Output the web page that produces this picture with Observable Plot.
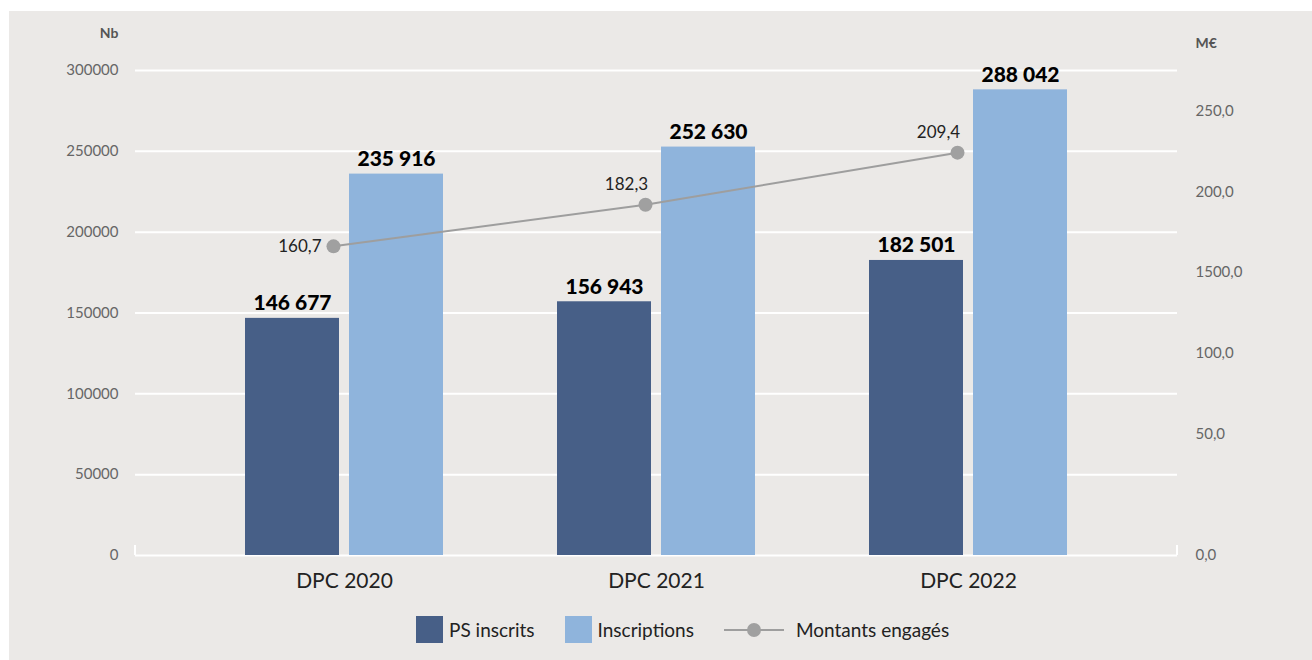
<!DOCTYPE html>
<html><head><meta charset="utf-8">
<script src="https://cdn.jsdelivr.net/npm/d3@7"></script>
<script src="https://cdn.jsdelivr.net/npm/@observablehq/plot@0.6"></script>
<style>
body{margin:0;background:#fff;font-family:Lato,"Noto Sans",sans-serif;}
#panel{position:absolute;left:9px;top:11px;width:1303px;height:649px;background:#ebe9e7;overflow:hidden;}
#chart{position:absolute;left:0;top:0;}
#legend{position:absolute;left:407px;top:605px;display:flex;align-items:center;font-size:19px;color:#222;height:27px;}
.sw{width:27px;height:27px;display:inline-block;}
.lab{margin-left:6px;margin-right:30px;}
.ln{width:60px;height:27px;display:inline-block;}
</style></head><body>
<div id="panel"><div id="chart"></div><div id="legend"></div></div>
<script>
// ---- data ----
const years = ["DPC 2020", "DPC 2021", "DPC 2022"];
const psInscrits = [146677, 156943, 182501];
const inscriptions = [235916, 252630, 288042];
const montants = [160.7, 182.3, 209.4];
const leftTicks = [0, 50000, 100000, 150000, 200000, 250000, 300000];
const rightTickValues = [0, 50, 100, 150, 200, 250];
const rightTickLabels = ["0,0", "50,0", "100,0", "1500,0", "200,0", "250,0"];
const seriesNames = ["PS inscrits", "Inscriptions", "Montants engagés"];
const leftUnit = "Nb";
const rightUnit = "M€";

// ---- build ----
const colors = {dark: "#475f87", light: "#8fb4dc", line: "#9e9e9e"};
const fr = d3.formatLocale({decimal: ",", thousands: " ", grouping: [3], currency: ["", "€"]});
const fmtInt = fr.format(",d");
const fmtDec = fr.format(".1f");
const psData = years.map((y, i) => ({year: y, value: psInscrits[i]}));
const insData = years.map((y, i) => ({year: y, value: inscriptions[i]}));
const lineData = years.map((y, i) => ({year: y, value: montants[i], i}));
const lineScale = 1190; // right-axis units -> left-axis units
const rightPos = v => v === 0 ? 0 : v * 1000 + 25000;

const endTicks = (...args) => {
  const dims = args.find(a => a && typeof a === "object" && a.marginLeft !== undefined && a.width !== undefined);
  const scales = args.find(a => a && typeof a === "object" && typeof a.y === "function");
  const ns = "http://www.w3.org/2000/svg";
  const g = document.createElementNS(ns, "g");
  if (!dims || !scales) return g;
  const y0 = scales.y(0);
  for (const x of [dims.marginLeft, dims.width - dims.marginRight]) {
    const l = document.createElementNS(ns, "line");
    l.setAttribute("x1", x); l.setAttribute("x2", x);
    l.setAttribute("y1", y0); l.setAttribute("y2", y0 - 10);
    l.setAttribute("stroke", "white"); l.setAttribute("stroke-width", 2);
    g.appendChild(l);
  }
  return g;
};

const chart = Plot.plot({
  width: 1303,
  height: 580,
  marginLeft: 126,
  marginRight: 135,
  marginTop: 59,
  marginBottom: 36,
  style: {background: "transparent", fontFamily: "Lato, 'Noto Sans', sans-serif", overflow: "visible"},
  x: {domain: years, paddingInner: 0.365, paddingOuter: 0.35, label: null},
  y: {domain: [0, 300000], label: null},
  marks: [
    Plot.ruleY(leftTicks, {stroke: "white", strokeWidth: 2}),
    endTicks,
    Plot.axisY(leftTicks, {tickSize: 0, tickPadding: 17, tickFormat: d3.format("d"), fontSize: 15, fill: "#666", label: null}),
    Plot.axisX({tickSize: 0, tickPadding: 18, fontSize: 21, fill: "#222", label: null}),
    Plot.text([leftUnit], {frameAnchor: "top-left", dx: -17, dy: -42, textAnchor: "end", fontSize: 14, fontWeight: "bold", fill: "#555"}),
    Plot.text([rightUnit], {frameAnchor: "top-right", dx: 18, dy: -32, textAnchor: "start", fontSize: 14, fontWeight: "bold", fill: "#555"}),
    Plot.text(rightTickValues, {frameAnchor: "right", y: d => rightPos(d), text: (d, i) => rightTickLabels[i], dx: 18, textAnchor: "start", fontSize: 15, fill: "#666"}),
    Plot.barY(psData, {x: "year", y: "value", fill: colors.dark, insetRight: 104}),
    Plot.barY(insData, {x: "year", y: "value", fill: colors.light, insetLeft: 104}),
    Plot.text(psData, {x: "year", y: "value", text: d => fmtInt(d.value), dx: -52, dy: -8, lineAnchor: "bottom", fontSize: 21, fontWeight: 900, fill: "#000"}),
    Plot.text(insData, {x: "year", y: "value", text: d => fmtInt(d.value), dx: 52, dy: -8, lineAnchor: "bottom", fontSize: 21, fontWeight: 900, fill: "#000"}),
    Plot.line(lineData, {x: "year", y: d => d.value * lineScale, stroke: colors.line, strokeWidth: 2, dx: -11}),
    Plot.dot(lineData, {x: "year", y: d => d.value * lineScale, r: 7, fill: "#a0a0a0", dx: -11}),
    Plot.text(lineData.filter(d => d.i === 0), {x: "year", y: d => d.value * lineScale, text: d => fmtDec(d.value), dx: -23, textAnchor: "end", fontSize: 17, fill: "#222"}),
    Plot.text(lineData.filter(d => d.i > 0), {x: "year", y: d => d.value * lineScale, text: d => fmtDec(d.value), dx: -30, dy: -20, textAnchor: "middle", fontSize: 17, fill: "#222"})
  ]
});
document.getElementById("chart").appendChild(chart);

// ---- legend ----
const lg = document.getElementById("legend");
lg.innerHTML =
  `<span class="sw" style="background:${colors.dark}"></span><span class="lab">${seriesNames[0]}</span>` +
  `<span class="sw" style="background:${colors.light}"></span><span class="lab">${seriesNames[1]}</span>` +
  `<svg class="ln" width="60" height="27"><line x1="0" x2="60" y1="14" y2="14" stroke="${colors.line}" stroke-width="2"/><circle cx="30" cy="14" r="7" fill="#a0a0a0"/></svg>` +
  `<span class="lab" style="margin-left:12px">${seriesNames[2]}</span>`;
</script>
</body></html>
